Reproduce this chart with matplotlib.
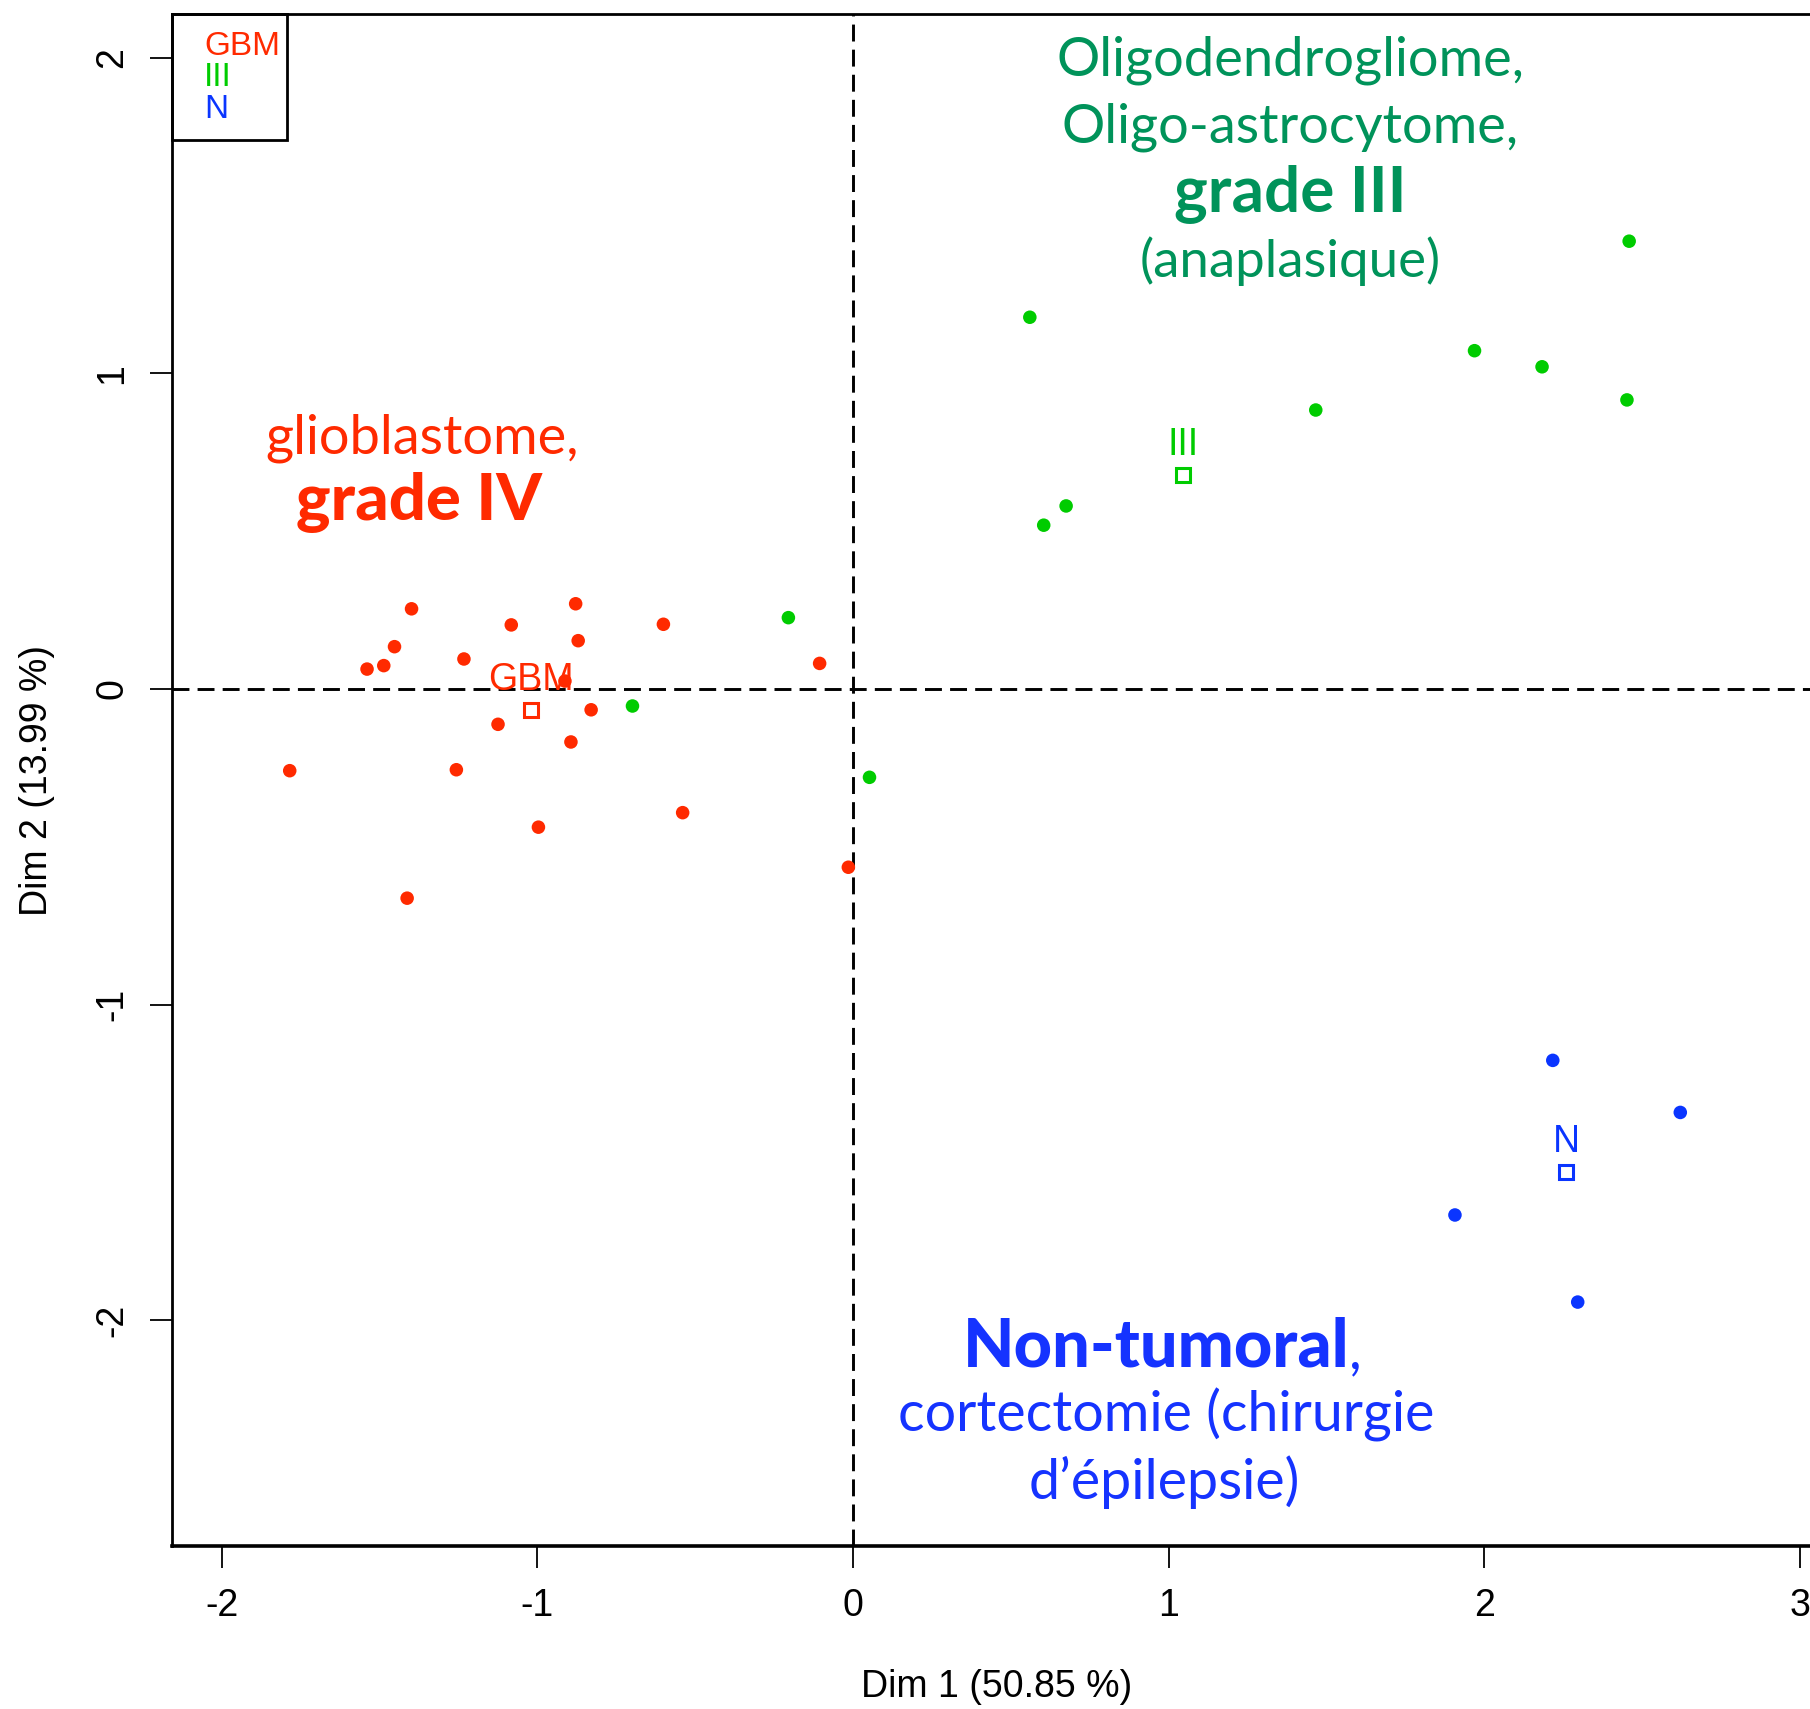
import matplotlib
matplotlib.use("Agg")
import matplotlib.pyplot as plt
from matplotlib.patches import Rectangle

# individuals (Dim 1, Dim 2)
gbm_x = [-1.785, -1.540, -1.487, -1.453, -1.399, -1.413, -1.257, -1.233, -1.125, -1.083,
         -0.997, -0.913, -0.894, -0.879, -0.871, -0.830, -0.601, -0.540, -0.106, -0.015]
gbm_y = [-0.259, 0.063, 0.074, 0.134, 0.254, -0.663, -0.256, 0.095, -0.112, 0.203,
         -0.438, 0.025, -0.168, 0.270, 0.153, -0.066, 0.205, -0.392, 0.081, -0.565]
iii_x = [-0.205, -0.699, 0.052, 0.560, 0.675, 0.604, 1.466, 1.969, 2.183, 2.459, 2.452]
iii_y = [0.226, -0.054, -0.280, 1.178, 0.580, 0.519, 0.884, 1.072, 1.021, 1.419, 0.916]
n_x = [2.217, 2.621, 1.907, 2.296]
n_y = [-1.177, -1.342, -1.667, -1.943]

# category centroids
groups = ["GBM", "III", "N"]
cent_x = [-1.021, 1.045, 2.259]
cent_y = [-0.068, 0.678, -1.532]

xticks = [-2, -1, 0, 1, 2, 3]
xtick_labels = ["-2", "-1", "0", "1", "2", "3"]
yticks = [-2, -1, 0, 1, 2]
ytick_labels = ["-2", "-1", "0", "1", "2"]

colors = ["#FF2A00", "#00CC00", "#0A35FF"]
txt_green = "#00935A"
txt_red = "#FF2A00"
txt_blue = "#1533FF"

plt.rcParams['font.family'] = ['Liberation Sans', 'DejaVu Sans']

fig = plt.figure(figsize=(18.1, 17.09), dpi=100)
ax = fig.add_axes([172 / 1810, 163 / 1709, 1650 / 1810, 1532 / 1709])
ax.set_xlim(-2.158, 3.07)
ax.set_ylim(-2.716, 2.139)

# reference lines
ax.axhline(0, color="black", lw=2.1, ls=(0, (5.8, 2.8)), zorder=1)
ax.axvline(0, color="black", lw=2.1, ls=(0, (5.8, 2.8)), zorder=1)

# points
for xs, ys, c in zip([gbm_x, iii_x, n_x], [gbm_y, iii_y, n_y], colors):
    ax.scatter(xs, ys, s=95, color=c, edgecolors="none", zorder=3)

# centroids + labels
for g, cx, cy, c in zip(groups, cent_x, cent_y, colors):
    ax.plot(cx, cy, marker="s", ms=10, mfc="none", mec=c, mew=2.2, zorder=3)
    ax.annotate(g, (cx, cy), xytext=(0, 9), textcoords="offset points",
                ha="center", va="bottom", color=c, fontsize=27, zorder=4)

# legend box
ax.add_patch(Rectangle((0, 0.9178), 0.0695, 0.0822, transform=ax.transAxes,
                       fill=False, ec="black", lw=2, clip_on=False, zorder=5))
for g, c, yy in zip(groups, colors, [0.979, 0.9586, 0.9375]):
    ax.text(0.0195, yy, g, transform=ax.transAxes, color=c, fontsize=24,
            ha="left", va="center")

# group annotations
big = dict(family="Lato", ha="center", va="center")
ax.text(1.386, 1.992, "Oligodendrogliome,", color=txt_green, fontsize=39, **big)
ax.text(1.386, 1.781, "Oligo-astrocytome,", color=txt_green, fontsize=39, **big)
ax.text(1.386, 1.569, "grade III", color=txt_green, fontsize=46, fontweight="bold", **big)
ax.text(1.386, 1.357, "(anaplasique)", color=txt_green, fontsize=38, **big)

ax.text(-1.364, 0.795, "glioblastome,", color=txt_red, fontsize=39, **big)
ax.text(-1.375, 0.590, "grade IV", color=txt_red, fontsize=47, fontweight="black", **big)

t_nt = ax.text(0.96, -2.086, "Non-tumoral", color=txt_blue, fontsize=48,
               fontweight="black", **big)
ax.annotate(",", xy=(1, 0), xycoords=t_nt, ha="left", va="bottom",
            color=txt_blue, fontsize=40, family="Lato")
ax.text(0.991, -2.301, "cortectomie (chirurgie", color=txt_blue, fontsize=40, **big)
ax.text(0.985, -2.514, "d\u2019\u00e9pilepsie)", color=txt_blue, fontsize=40, **big)

# axes, R style
ax.set_xticks(xticks)
ax.set_xticklabels(xtick_labels)
ax.set_yticks(yticks)
ax.set_yticklabels(ytick_labels, rotation=90, va="center")
ax.tick_params(axis="both", length=16, width=1.3, labelsize=27, direction="out")
ax.tick_params(axis="x", pad=14)
ax.tick_params(axis="y", pad=14)
for s in ax.spines.values():
    s.set_linewidth(2)
ax.spines["bottom"].set_linewidth(2.6)

ax.set_xlabel("Dim 1 (50.85 %)", fontsize=27, va="center")
ax.xaxis.set_label_coords(0.5, -0.092)
ax.set_ylabel("Dim 2 (13.99 %)", fontsize=27, va="center")
ax.yaxis.set_label_coords(-0.0818, 0.5)

fig.savefig("out.png", dpi=100)
